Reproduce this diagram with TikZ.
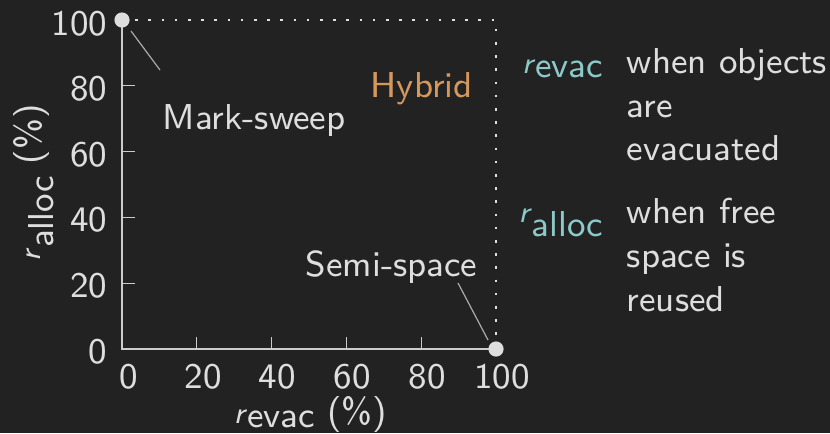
\documentclass[tikz,border=0pt]{standalone}
\usepackage{fontspec}
\definecolor{bg}{HTML}{222222}
\definecolor{fg}{HTML}{DEDEDE}
\definecolor{axisc}{HTML}{CCCCCC}
\definecolor{leadc}{HTML}{AAAAAA}
\definecolor{hyb}{HTML}{D4975C}
\definecolor{teal}{HTML}{8CCACA}
\newcommand\rsub[2]{{\fontsize{7.5}{9}\selectfont\textsl{r}}\raisebox{-#2}{#1}}
\tikzset{
  txt/.style={inner sep=0pt, text=fg, font=\fontsize{9}{11}\selectfont\sffamily},
  ptnode/.style={circle, fill=fg, inner sep=0pt, minimum size=3.8pt},
  axisline/.style={draw=axisc, line width=0.5pt},
  tickline/.style={draw=axisc, line width=0.3pt},
  leader/.style={draw=leadc, line width=0.3pt},
  dotline/.style={draw=fg, line width=0.65pt, dash pattern=on 0.65pt off 2.65pt},
}
\begin{document}
\begin{tikzpicture}[x=0.25pt,y=-0.25pt]
\fill[bg] (0,0) rectangle (830,433);
\useasboundingbox (0,0) rectangle (830,433);
% axes
\coordinate (O) at (122,349);
\coordinate (xend) at (496,349);
\coordinate (yend) at (122,20);
\coordinate (corner) at (496,20);
\draw[axisline] (yend) -- (O) -- (xend);
% ticks
\foreach \v/\n in {20/xa,40/xb,60/xc,80/xd}{
  \coordinate (\n) at ({122+3.74*\v},349);
  \draw[tickline] (\n) -- ++(0,-12);
}
\foreach \v/\n in {20/ya,40/yb,60/yc,80/yd}{
  \coordinate (\n) at (122,{349-3.29*\v});
  \draw[tickline] (\n) -- ++(13,0);
}
% tick labels
\node[txt, anchor=base] (lx0) at (129,388) {0};
\node[txt, anchor=base] (lx20) at (203,388) {20};
\node[txt, anchor=base] (lx40) at (277,388) {40};
\node[txt, anchor=base] (lx60) at (352,388) {60};
\node[txt, anchor=base] (lx80) at (427,388) {80};
\node[txt, anchor=base] (lx100) at (502,388) {100};
\node[txt, anchor=base east] (ly0) at (108,363) {0};
\node[txt, anchor=base east] (ly20) at (108,297) {20};
\node[txt, anchor=base east] (ly40) at (108,231) {40};
\node[txt, anchor=base east] (ly60) at (108,166) {60};
\node[txt, anchor=base east] (ly80) at (108,100) {80};
\node[txt, anchor=base east] (ly100) at (108,35) {100};
% axis labels
\node[txt, anchor=base west] (xlab) at (233,423) {\rsub{evac}{1.2pt}~(\%)};
\node[txt, anchor=base west, rotate=90] (ylab) at (40,262) {\rsub{alloc}{3.3pt}~(\%)};
% points and dotted frontier
\draw[dotline] (yend) -- (corner) -- (xend);
\node[ptnode] (ms) at (122,20) {};
\node[ptnode] (ss) at (496,349) {};
% labels
\node[txt, anchor=base west] (mslab) at (162,129) {Mark-sweep};
\node[txt, anchor=base west, text=hyb] (hyblab) at (370,97) {Hybrid};
\node[txt, anchor=base west] (sslab) at (305,276) {Semi-space};
\coordinate (msA) at (131,31);
\coordinate (msB) at (160,70);
\coordinate (ssA) at (458,283);
\coordinate (ssB) at (488,340);
\draw[leader] (msA) -- (msB);
\draw[leader] (ssA) -- (ssB);
% legend
\node[txt, anchor=base east, text=teal] (lgevac) at (604,73) {\rsub{evac}{1.1pt}};
\node[txt, anchor=base west] (lgevac1) at (626,73) {when objects};
\node[txt, anchor=base west] (lgevac2) at (626,117) {are};
\node[txt, anchor=base west] (lgevac3) at (626,160) {evacuated};
\node[txt, anchor=base east, text=teal] (lgalloc) at (604,222) {\rsub{alloc}{3.5pt}};
\node[txt, anchor=base west] (lgalloc1) at (626,223) {when free};
\node[txt, anchor=base west] (lgalloc2) at (626,267) {space is};
\node[txt, anchor=base west] (lgalloc3) at (626,311) {reused};
\end{tikzpicture}
\end{document}
